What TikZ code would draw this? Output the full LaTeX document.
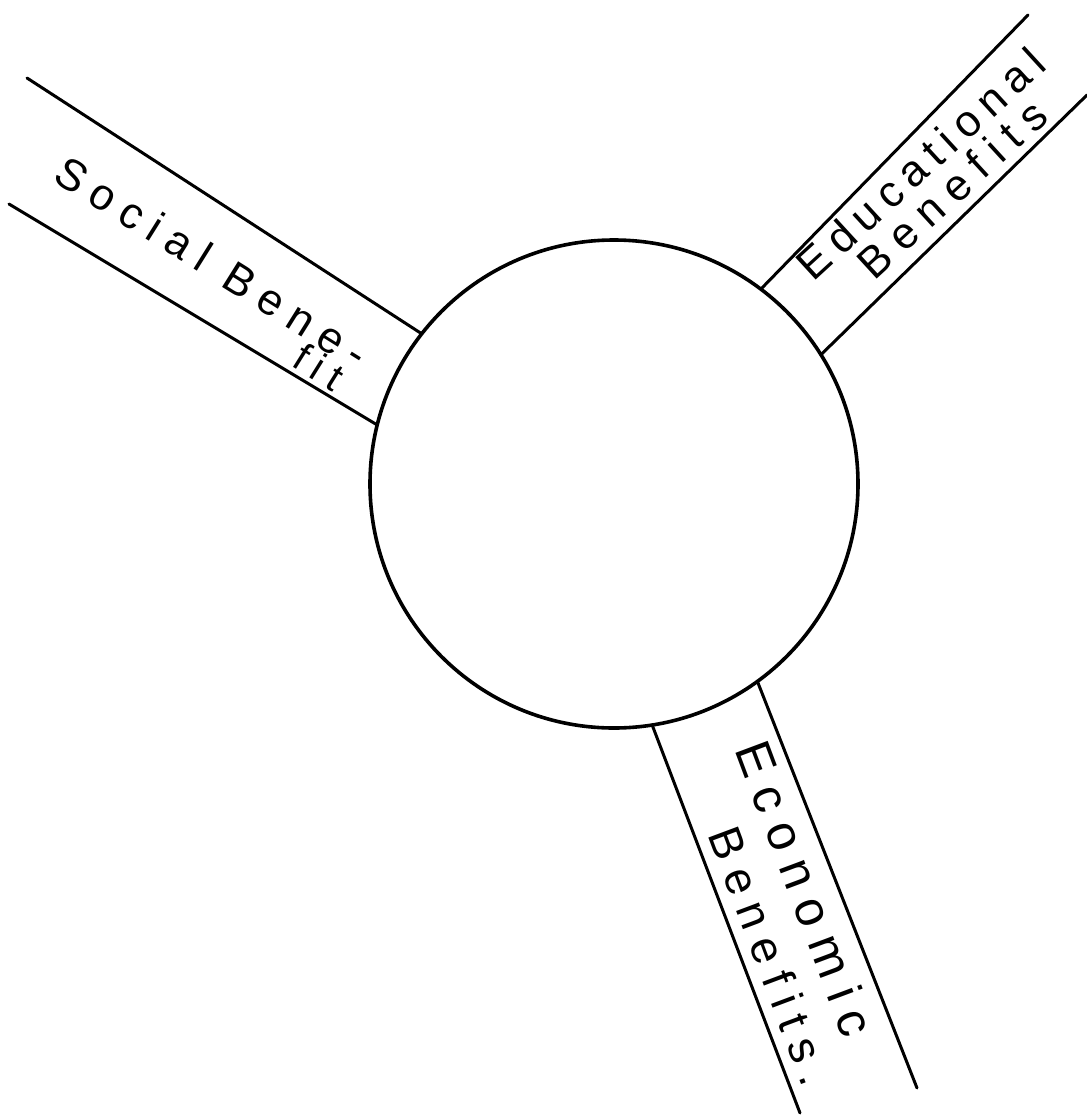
\documentclass[tikz,border=0pt]{standalone}
\usepackage{fontspec}
\setmainfont{Liberation Sans}
\begin{document}
\begin{tikzpicture}[x=1pt,y=-1pt,
  band/.style={line width=3pt, line cap=round},
  hubstyle/.style={circle, draw, line width=3.6pt, minimum size=488pt, inner sep=0pt, outer sep=0pt},
  lab/.style={inner sep=0pt, anchor=center, align=center}]
\useasboundingbox (0,0) rectangle (1087,1117);
\fill[white] (0,0) rectangle (1087,1117);
\node[hubstyle] (hub) at (614,484) {};
\coordinate (soU) at (27,78);
\coordinate (soL) at (9,204);
\coordinate (edU) at (1028,15);
\coordinate (edL) at (1087,95);
\coordinate (ecL) at (800,1113);
\coordinate (ecR) at (917,1088);
\draw[band] (soU) -- (hub.142.2);
\draw[band] (soL) -- (hub.166.2);
\draw[band] (edU) -- (hub.53.6);
\draw[band] (edL) -- (hub.32.8);
\draw[band] (ecL) -- (hub.-81.7);
\draw[band] (ecR) -- (hub.-54);
\node[lab, font=\fontsize{44}{27}\selectfont, rotate=-32] (soc) at (204,275)
  {{\addfontfeatures{LetterSpace=25}Social Bene-}\\\hspace*{292pt}{\fontsize{40}{27}\selectfont\addfontfeatures{LetterSpace=24}fit}};
\node[lab, font=\fontsize{44}{40}\selectfont, rotate=42.5] (edu) at (934,178)
  {{\addfontfeatures{LetterSpace=20}Educational}\\\hspace*{12pt}{\addfontfeatures{LetterSpace=26}Benefits}};
\node[lab, font=\fontsize{46}{55}\selectfont, rotate=-69.5] (eco) at (780,898)
  {{\fontsize{50}{55}\selectfont\addfontfeatures{LetterSpace=26}Economic}\\\hspace*{102pt}{\addfontfeatures{LetterSpace=25}Benefits.}};
\end{tikzpicture}
\end{document}
